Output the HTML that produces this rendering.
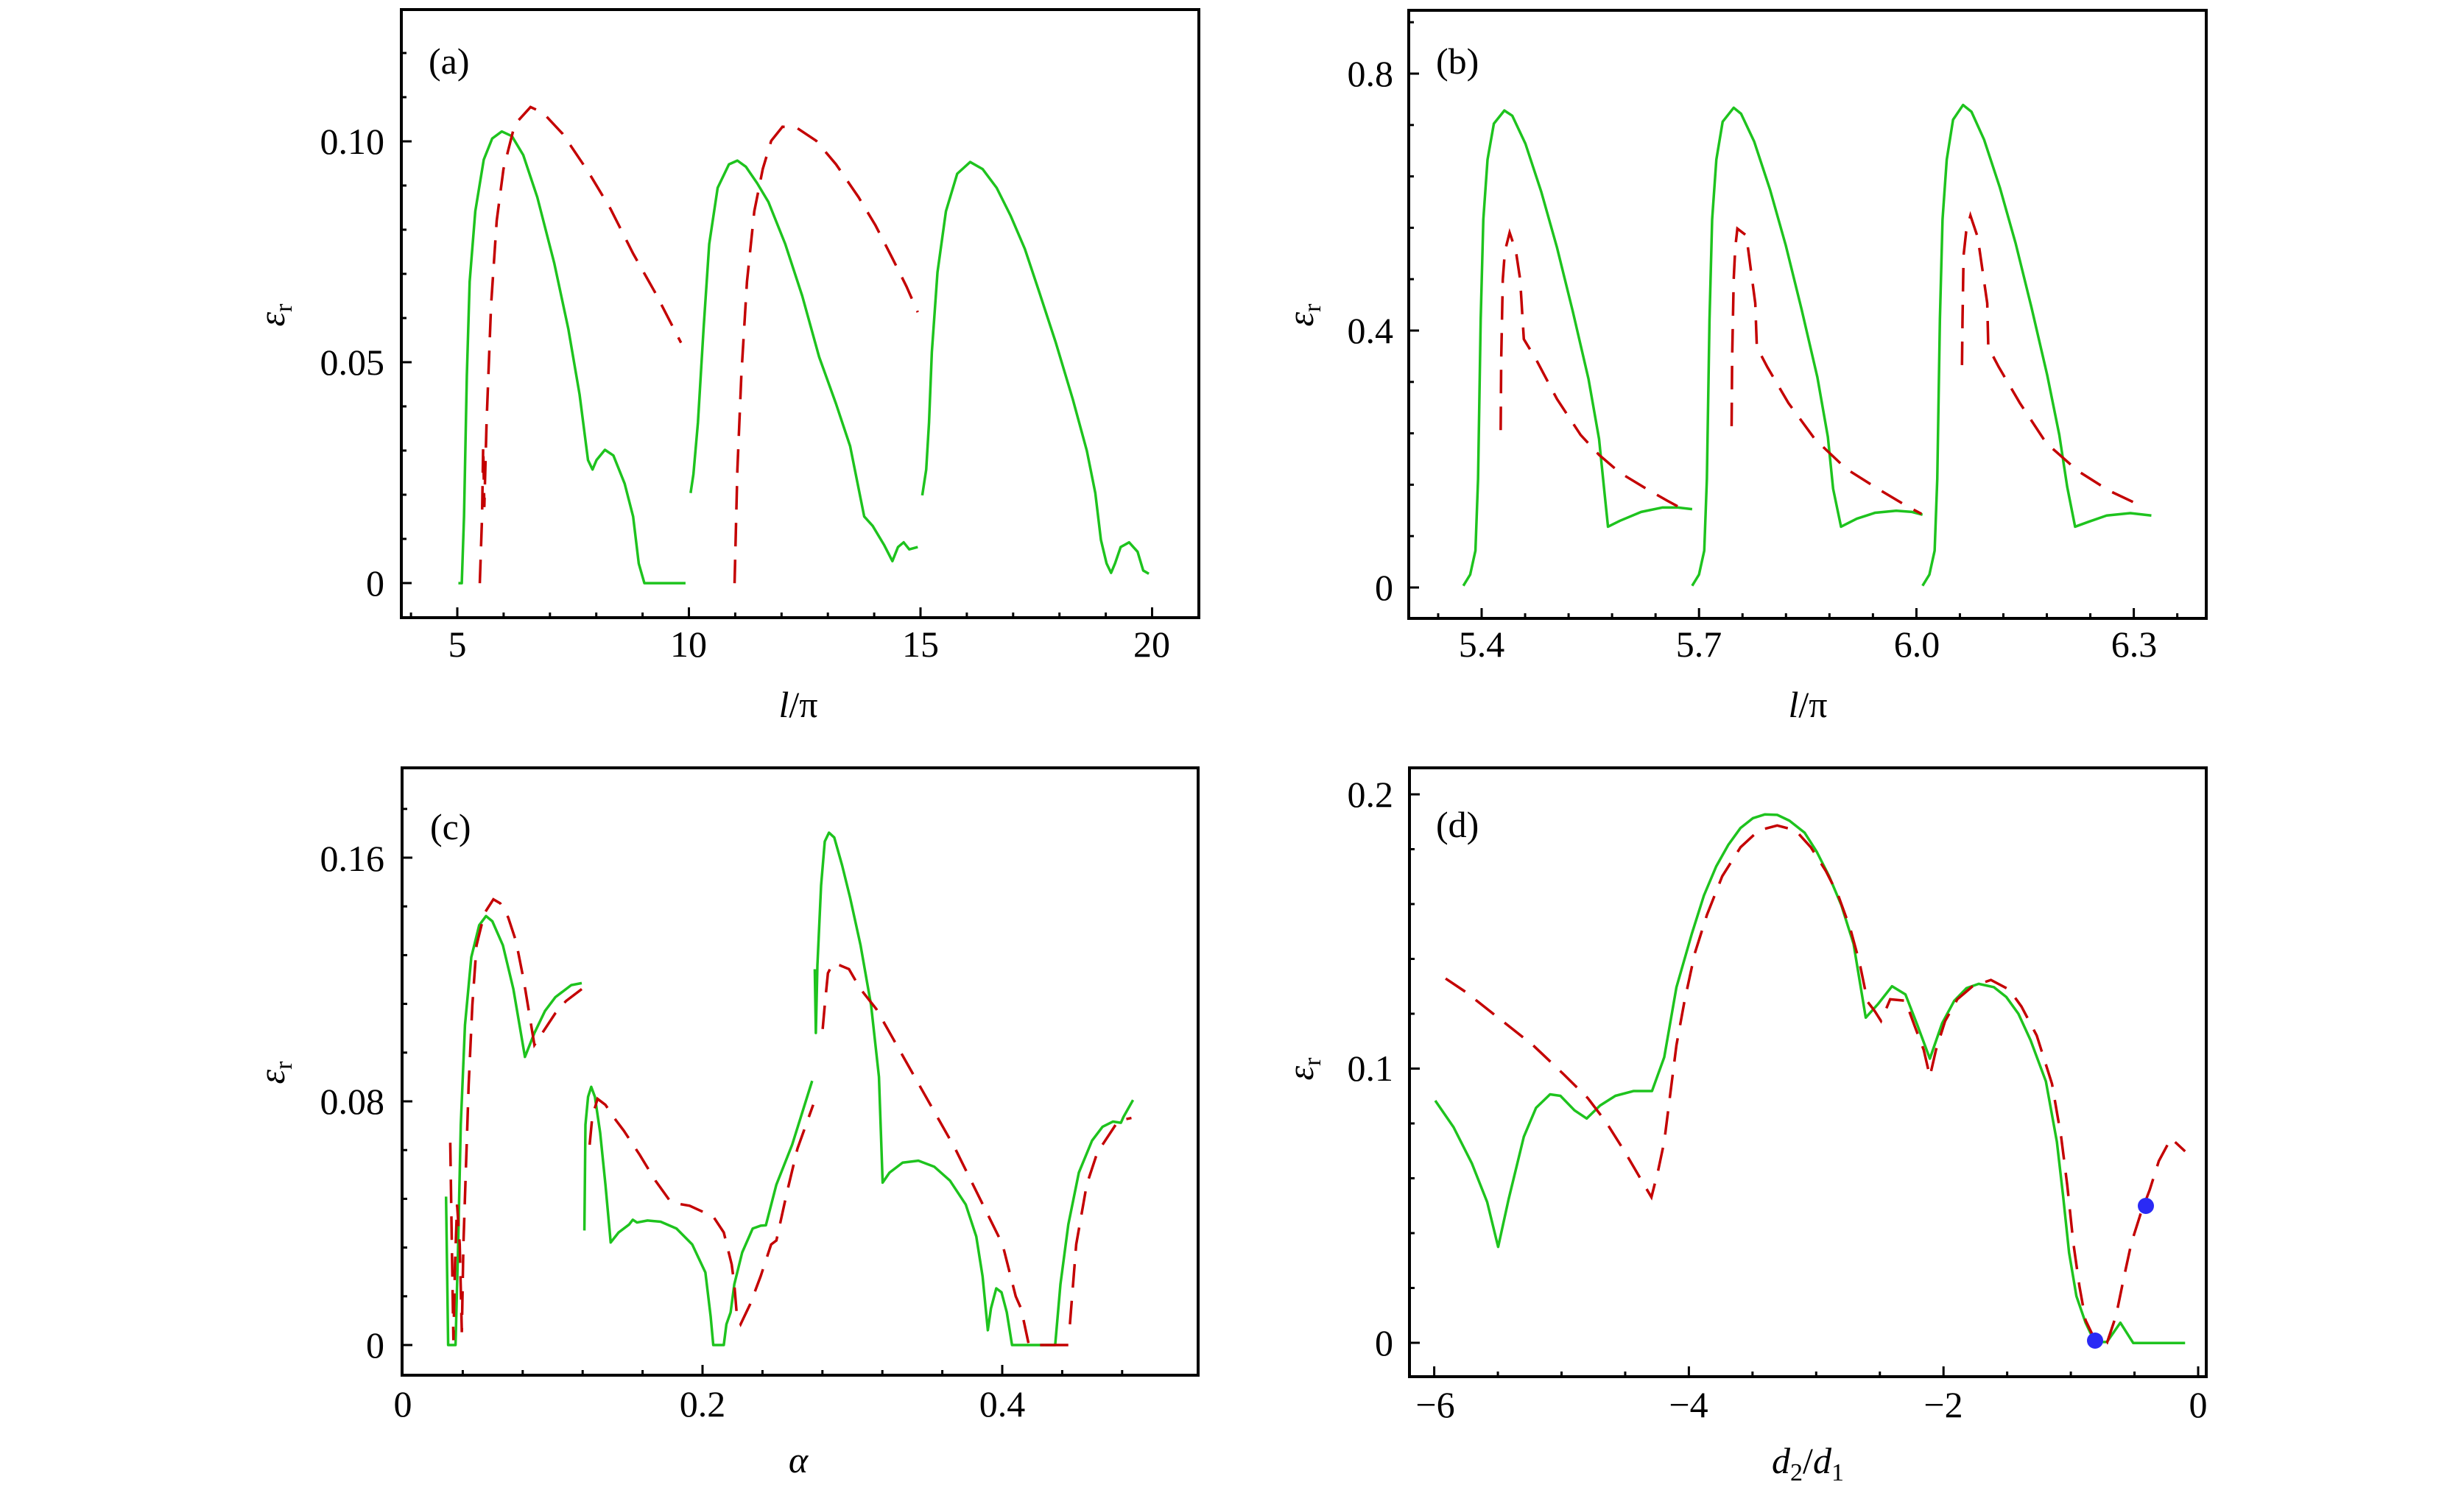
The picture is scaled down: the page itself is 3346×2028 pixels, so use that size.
<!DOCTYPE html>
<html><head><meta charset="utf-8"><style>
html,body{margin:0;padding:0;background:#fff}
svg{display:block}
text{font-family:"Liberation Serif",serif;fill:#000}
.g{fill:none;stroke:#1ec31e;stroke-width:3.5;stroke-linejoin:round;vector-effect:non-scaling-stroke}
.r{fill:none;stroke:#c40000;stroke-width:3.5;stroke-dasharray:32 18;vector-effect:non-scaling-stroke}
</style></head><body>
<svg id="s" width="3346" height="2028" viewBox="0 0 3346 2028" xmlns="http://www.w3.org/2000/svg">
<rect width="3346" height="2028" fill="#fff"/>
<g id="axes" stroke="#000" fill="none" stroke-width="4">
<rect x="545" y="13" width="1083" height="826"/>
<rect x="1913" y="14" width="1083" height="826"/>
<rect x="546" y="1043" width="1081" height="825"/>
<rect x="1914" y="1043" width="1082" height="827"/>
</g>
<g id="ticks" stroke="#000" stroke-width="3"></g>
<g font-size="50">
<!-- (a) -->
<text x="522" y="809" text-anchor="end">0</text>
<text x="522" y="509" text-anchor="end">0.05</text>
<text x="522" y="209" text-anchor="end">0.10</text>
<text x="621" y="892" text-anchor="middle">5</text>
<text x="935" y="892" text-anchor="middle">10</text>
<text x="1250" y="892" text-anchor="middle">15</text>
<text x="1564" y="892" text-anchor="middle">20</text>
<text x="1084" y="974" text-anchor="middle"><tspan font-style="italic">l</tspan>/π</text>
<text x="582" y="100">(a)</text>
<text transform="translate(386,428) rotate(-90)" text-anchor="middle"><tspan font-style="italic">ε</tspan><tspan font-size="34" dy="10">r</tspan></text>
<!-- (b) -->
<text x="1892" y="815" text-anchor="end">0</text>
<text x="1892" y="466" text-anchor="end">0.4</text>
<text x="1892" y="117" text-anchor="end">0.8</text>
<text x="2012" y="892" text-anchor="middle">5.4</text>
<text x="2307" y="892" text-anchor="middle">5.7</text>
<text x="2603" y="892" text-anchor="middle">6.0</text>
<text x="2898" y="892" text-anchor="middle">6.3</text>
<text x="2455" y="974" text-anchor="middle"><tspan font-style="italic">l</tspan>/π</text>
<text x="1950" y="100">(b)</text>
<text transform="translate(1783,428) rotate(-90)" text-anchor="middle"><tspan font-style="italic">ε</tspan><tspan font-size="34" dy="10">r</tspan></text>
<!-- (c) -->
<text x="522" y="1844" text-anchor="end">0</text>
<text x="522" y="1513" text-anchor="end">0.08</text>
<text x="522" y="1183" text-anchor="end">0.16</text>
<text x="547" y="1924" text-anchor="middle">0</text>
<text x="954" y="1924" text-anchor="middle">0.2</text>
<text x="1361" y="1924" text-anchor="middle">0.4</text>
<text x="1084" y="2000" text-anchor="middle" font-style="italic">α</text>
<text x="584" y="1140">(c)</text>
<text transform="translate(386,1457) rotate(-90)" text-anchor="middle"><tspan font-style="italic">ε</tspan><tspan font-size="34" dy="10">r</tspan></text>
<!-- (d) -->
<text x="1892" y="1841" text-anchor="end">0</text>
<text x="1892" y="1468" text-anchor="end">0.1</text>
<text x="1892" y="1096" text-anchor="end">0.2</text>
<text x="1949" y="1925" text-anchor="middle">−6</text>
<text x="2293" y="1925" text-anchor="middle">−4</text>
<text x="2639" y="1925" text-anchor="middle">−2</text>
<text x="2985" y="1925" text-anchor="middle">0</text>
<text x="2455" y="2001" text-anchor="middle"><tspan font-style="italic">d</tspan><tspan font-size="34" dy="10">2</tspan><tspan dy="-10">/</tspan><tspan font-style="italic">d</tspan><tspan font-size="34" dy="10">1</tspan></text>
<text x="1950" y="1137">(d)</text>
<text transform="translate(1783,1452) rotate(-90)" text-anchor="middle"><tspan font-style="italic">ε</tspan><tspan font-size="34" dy="10">r</tspan></text>
</g>

<!-- (a) data -->
<g transform="translate(500,0) scale(0.7654,0.6378)">
<polyline class="g" points="160,1242 166,1242 170,1100 175,800 180,600 190,450 205,340 220,295 237,280 255,290 275,330 300,420 330,560 355,700 375,840 390,980 398,1000 405,980 420,958 435,970 455,1030 470,1100 480,1200 490,1242 563,1242"/>
<polyline class="r" points="198,1242 202,1100 204,950 206,1080 210,900 218,650 228,470 240,360 260,265 288,228 310,240 345,285 390,365 430,445 470,540 510,625 555,730"/>
<polyline class="g" points="572,1050 577,1010 585,900 595,700 605,520 620,400 640,350 655,342 670,355 690,390 710,430 740,520 770,630 800,760 830,860 855,950 870,1040 880,1100 895,1120 915,1160 930,1195 940,1165 950,1155 960,1170 975,1165"/>
<polyline class="r" points="650,1242 655,1000 662,800 672,600 685,450 700,360 715,300 735,270 760,272 795,300 830,350 870,420 900,480 930,550 955,610 975,665"/>
<polyline class="g" points="983,1055 990,1000 995,900 1000,750 1010,580 1025,450 1045,370 1068,345 1090,360 1115,400 1140,460 1165,530 1190,620 1220,730 1250,850 1275,960 1290,1050 1300,1150 1310,1200 1318,1220 1325,1200 1335,1165 1350,1155 1365,1175 1375,1215 1385,1222"/>
</g>

<!-- (b) data -->
<g transform="translate(1900,0) scale(0.7143,0.542)">
<polyline class="g" points="122,1468 135,1440 145,1380 150,1200 155,800 160,550 168,400 180,310 200,277 215,290 240,360 270,480 300,620 330,780 360,950 380,1100 390,1230 397,1320 420,1305 460,1283 500,1272 530,1272 557,1276"/>
<polyline class="r" points="193,1078 194,900 197,700 201,630 210,583 222,630 230,700 237,850 260,900 300,1000 345,1090 380,1140 420,1185 470,1225 510,1255 545,1280"/>
<polyline class="g" points="557,1468 570,1440 580,1380 585,1200 590,800 595,550 603,400 615,305 636,270 650,285 675,355 705,475 735,615 765,775 795,945 815,1095 825,1225 840,1320 870,1300 905,1285 945,1280 975,1283 995,1290"/>
<polyline class="r" points="632,1068 633,900 636,700 639,620 643,573 660,590 677,760 680,870 700,920 740,1010 790,1100 850,1175 910,1225 957,1262 993,1288"/>
<polyline class="g" points="995,1468 1008,1440 1018,1380 1023,1200 1028,800 1033,550 1041,400 1053,300 1072,263 1088,280 1112,350 1142,470 1172,610 1202,770 1232,940 1255,1090 1270,1220 1285,1320 1310,1308 1345,1292 1390,1286 1430,1292"/>
<polyline class="r" points="1070,915 1071,800 1073,640 1078,580 1086,540 1100,595 1118,760 1120,870 1140,920 1180,1010 1230,1110 1290,1180 1350,1230 1395,1258"/>
</g>

<!-- (c) data -->
<g transform="translate(540,1040) scale(0.7143,0.542)">
<polyline class="g" points="92,1080 96,1452 110,1452 115,1200 120,900 128,650 140,480 155,400 168,377 180,390 200,450 220,560 242,730 260,670 280,615 300,580 330,550 350,545"/>
<polyline class="r" points="100,945 103,1200 106,1440 109,1250 113,1100 118,1200 122,1420 125,1200 130,1000 135,800 142,600 150,450 165,370 182,335 195,345 210,380 225,440 240,540 250,620 260,700 275,670 300,620 320,590 350,560"/>
<polyline class="g" points="355,1165 357,900 362,830 368,805 375,830 385,920 395,1050 405,1195 420,1170 440,1150 447,1138 455,1145 475,1140 500,1143 530,1160 560,1200 585,1270 595,1380 600,1452 620,1452 625,1400 633,1370 640,1300 655,1220 675,1160 690,1153 700,1152 720,1050 750,950 788,790"/>
<polyline class="r" points="365,950 370,880 380,835 395,850 410,880 430,915 460,975 490,1040 520,1095 555,1103 600,1130 620,1170 635,1250 640,1300 645,1380 652,1400 670,1350 690,1280 710,1200 720,1190 740,1070 760,960 790,850"/>
<polyline class="g" points="793,510 795,670 798,500 805,300 812,190 820,168 830,180 845,250 860,330 880,450 900,600 915,780 922,1045 935,1020 960,995 990,990 1020,1005 1050,1040 1080,1100 1100,1180 1112,1280 1122,1415 1128,1360 1138,1310 1148,1320 1158,1370 1168,1452 1250,1452 1260,1300 1275,1150 1295,1020 1320,940 1340,905 1360,892 1375,895 1380,880 1398,838"/>
<polyline class="r" points="808,660 812,600 818,520 828,495 840,500 858,510 880,560 910,610 940,680 970,750 1000,820 1030,890 1060,960 1090,1040 1120,1120 1150,1200 1175,1330 1185,1360 1190,1390 1200,1452 1230,1452"/>
<polyline class="r" style="stroke-dasharray:none" points="1230,1452 1275,1452"/>
<polyline class="r" points="1278,1400 1290,1200 1310,1050 1330,970 1350,930 1370,890 1395,883"/>
</g>

<!-- (d) data -->
<g transform="translate(1750,1000) scale(0.8292,0.6557)">
<polyline class="g" points="240,755 270,810 300,885 325,965 343,1058 360,960 385,830 405,770 428,742 445,745 468,775 488,792 510,765 535,745 565,735 595,735 615,665 635,520 660,410 680,330 700,270 720,225 740,190 760,170 780,162 800,163 820,175 845,200 865,240 885,290 905,350 925,430 945,583 965,555 988,518 1010,535 1030,600 1050,668 1070,595 1090,548 1110,522 1130,513 1155,520 1175,540 1195,575 1215,630 1240,715 1258,840 1268,950 1278,1070 1290,1160 1305,1215 1320,1255 1340,1255 1362,1215 1383,1257 1468,1257"/>
<polyline class="r" points="257,502 290,530 340,580 400,640 450,700 490,750 520,800 550,860 580,925 594,955 605,900 615,840 625,740 635,640 648,550 665,450 685,370 710,290 740,230 770,195 800,185 830,195 855,230 880,280 900,330 920,400 935,470 948,550 960,570 970,590 985,545 1010,548 1025,600 1040,650 1050,705 1060,650 1075,590 1095,545 1120,518 1150,505 1180,525 1200,560 1225,620 1250,720 1265,830 1275,930 1285,1050 1295,1140 1305,1210 1322,1255 1340,1257 1355,1200 1368,1120 1380,1050 1395,990 1410,940 1425,880 1445,833 1468,860"/>
</g>
<circle cx="2845" cy="1821" r="11" fill="#2a2af5"/>
<circle cx="2914" cy="1638" r="11" fill="#2a2af5"/>
</svg>
<script>
(function(){
var g=document.getElementById('ticks'),h='';
function xt(x,yb,len){h+='<line x1="'+x+'" y1="'+yb+'" x2="'+x+'" y2="'+(yb-len)+'"/>';}
function yt(y,xl,len){h+='<line x1="'+xl+'" y1="'+y+'" x2="'+(xl+len)+'" y2="'+y+'"/>';}
var i,v;
// (a)
for(i=4;i<=20;i++){xt(621+(i-5)*62.9,839,(i%5==0)?14:7);}
for(i=0;i<=12;i++){yt(792-i*0.01*6000,545,(i%5==0)?14:7);}
// (b)
for(i=0;i<=17;i++){v=5.34+i*0.06;xt(2012+(v-5.4)*984,840,((i-1)%5==0)?14:7);}
for(i=0;i<=11;i++){yt(798-i*0.08*872.5,1913,(i%5==0)?14:7);}
// (c)
for(i=1;i<=12;i++){v=i*0.04;xt(547+v*2035,1868,(i%5==0)?14:7);}
for(i=0;i<=11;i++){yt(1827-i*0.016*4137.5,546,(i%5==0)?14:7);}
// (d)
for(i=0;i<=12;i++){v=-6+i*0.5;xt(2985+v*172.9,1870,(i%4==0)?14:7);}
for(i=0;i<=10;i++){yt(1824-i*0.02*3725,1914,(i%5==0)?14:7);}
g.innerHTML=h;
})();
</script>
</body></html>
